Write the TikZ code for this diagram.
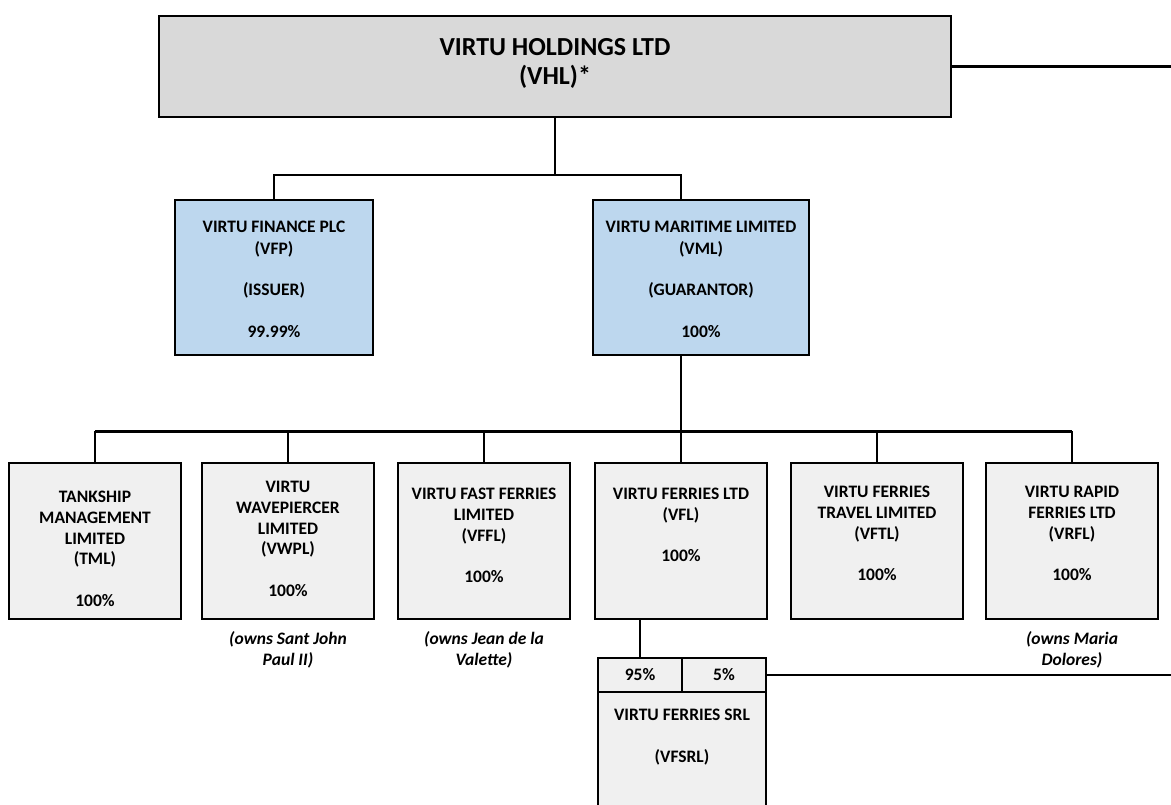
\documentclass[tikz,border=0pt]{standalone}
\usepackage{fontspec}
\setmainfont{Carlito}
\usepackage{tikz}
\usetikzlibrary{positioning}
\definecolor{holdgrey}{HTML}{D9D9D9}
\definecolor{keyblue}{HTML}{BDD7EE}
\definecolor{subgrey}{HTML}{F0F0F0}
\tikzset{
  entity/.style={draw, line width=2.8pt, fill=subgrey, inner sep=0pt,
    minimum width=172pt, minimum height=156pt},
  keyentity/.style={entity, fill=keyblue, minimum height=155pt},
  share/.style={entity, minimum width=84pt, minimum height=34pt,
    font=\bfseries\fontsize{17.5}{20.7}\selectfont},
  nametext/.style={align=center, inner sep=0pt,
    font=\bfseries\fontsize{17.5}{20.7}\selectfont},
  keytext/.style={nametext, font=\bfseries\fontsize{17.5}{21.5}\selectfont},
  toptext/.style={nametext, font=\bfseries\fontsize{26}{29}\selectfont},
  notetext/.style={nametext, font=\bfseries\itshape\fontsize{17.5}{20.7}\selectfont},
  link/.style={line width=2.4pt}
}

\begin{document}
\begin{tikzpicture}[x=1pt,y=-1pt]
\useasboundingbox (0,0) rectangle (1171,805);
% holding
\node[entity, fill=holdgrey, minimum width=792pt, minimum height=101pt] (VHL) at (555,66.5) {};
\node[toptext, below=23.6pt of VHL.north] (VHLtext) {VIRTU HOLDINGS LTD\\(VHL)*};
% issuer and guarantor
\node[keyentity, minimum width=198pt] (VFP) at (274,277.5) {};
\node[keytext, below=22.5pt of VFP.north] (VFPtext) {VIRTU FINANCE PLC\\(VFP)\\[20pt](ISSUER)\\[20pt]99.99\%};
\node[keyentity, minimum width=216pt] (VML) at (701,277.5) {};
\node[keytext, below=22.5pt of VML.north] (VMLtext) {VIRTU MARITIME LIMITED\\(VML)\\[20pt](GUARANTOR)\\[20pt]100\%};
% subsidiaries
\node[entity] (TML) at (95,541) {};
\node[nametext, below=29.5pt of TML.north] (TMLtext) {TANKSHIP\\MANAGEMENT\\LIMITED\\(TML)\\[20.7pt]100\%};
\node[entity] (VWPL) at (288,541) {};
\node[nametext, below=19.5pt of VWPL.north] (VWPLtext) {VIRTU\\WAVEPIERCER\\LIMITED\\(VWPL)\\[20.7pt]100\%};
\node[entity] (VFFL) at (484,541) {};
\node[nametext, below=26.5pt of VFFL.north] (VFFLtext) {VIRTU FAST FERRIES\\LIMITED\\(VFFL)\\[20.7pt]100\%};
\node[entity] (VFL) at (681,541) {};
\node[nametext, below=26.5pt of VFL.north] (VFLtext) {VIRTU FERRIES LTD\\(VFL)\\[20.7pt]100\%};
\node[entity] (VFTL) at (877,541) {};
\node[nametext, below=24.5pt of VFTL.north] (VFTLtext) {VIRTU FERRIES\\TRAVEL LIMITED\\(VFTL)\\[20.7pt]100\%};
\node[entity] (VRFL) at (1072,541) {};
\node[nametext, below=24.5pt of VRFL.north] (VRFLtext) {VIRTU RAPID\\FERRIES LTD\\(VRFL)\\[20.7pt]100\%};
% vessels
\node[notetext, below=11pt of VWPL.south] (VWPLnote) {(owns Sant John\\Paul II)};
\node[notetext, below=11pt of VFFL.south] (VFFLnote) {(owns Jean de la\\Valette)};
\node[notetext, below=11pt of VRFL.south] (VRFLnote) {(owns Maria\\Dolores)};
% srl
\node[share] (own95) at (640,675) {95\%};
\node[share] (own5) at (724,675) {5\%};
\node[entity, minimum width=168pt, minimum height=120pt] (VFSRL) at (682,752) {};
\node[nametext, below=18.5pt of VFSRL.north] (VFSRLtext) {VIRTU FERRIES SRL\\[20.7pt](VFSRL)};
% connectors
\draw[link] (VHL.south) -- ++(0,56.5) coordinate (bus1)
  (VFP.north) |- (bus1) -| (VML.north -| VFL.north);
\draw[link] (VML.south -| VFL.north) -- ++(0,75) coordinate (bus2)
  (bus2 -| TML.north) -- (bus2 -| VRFL.north);
\draw[link] (bus2 -| TML.north) -- (TML.north)
  (bus2 -| VWPL.north) -- (VWPL.north)
  (bus2 -| VFFL.north) -- (VFFL.north)
  (bus2 -| VFL.north) -- (VFL.north)
  (bus2 -| VFTL.north) -- (VFTL.north)
  (bus2 -| VRFL.north) -- (VRFL.north);
\draw[link] (VFL.south -| own95.north) -- (own95.north);
\draw[link] (VHL.east) -- (VHL.east -| 1171,0);
\draw[link] (own5.east) -- (own5.east -| 1171,0);
\end{tikzpicture}
\end{document}
